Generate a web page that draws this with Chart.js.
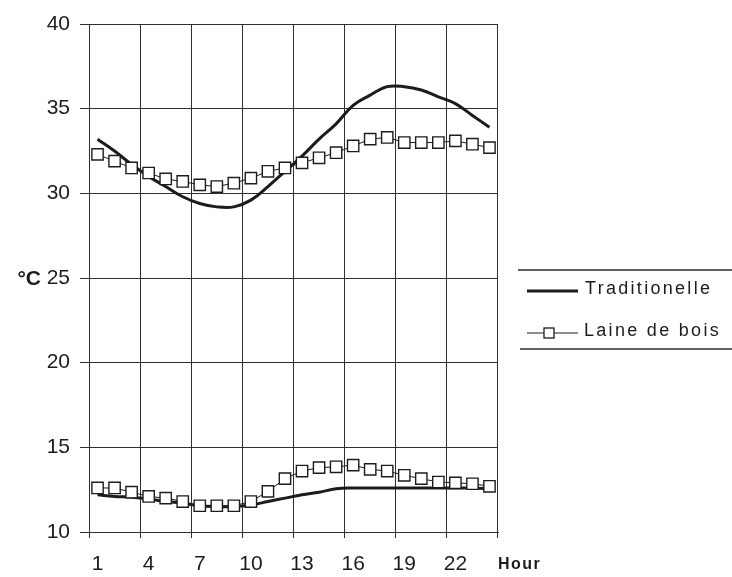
<!DOCTYPE html>
<html>
<head>
<meta charset="utf-8">
<script src="https://cdn.jsdelivr.net/npm/chart.js@4"></script>
<style>
  html, body { margin: 0; padding: 0; background: #fff; }
  #wrap { width: 732px; height: 577px; }
</style>
</head>
<body>
<div id="wrap"><canvas id="tempChart"></canvas></div>
<script>
/// === DATA === ///
const hours = ['1', '2', '3', '4', '5', '6', '7', '8', '9', '10', '11', '12',
  '13', '14', '15', '16', '17', '18', '19', '20', '21', '22', '23', '24'];

const tradUpper = [33.2, 32.5, 31.7, 31.0, 30.4, 29.8, 29.4, 29.2, 29.2, 29.6, 30.4, 31.3,
  32.2, 33.2, 34.1, 35.2, 35.8, 36.3, 36.3, 36.1, 35.7, 35.3, 34.6, 33.9];
const laineUpper = [32.3, 31.9, 31.5, 31.2, 30.85, 30.7, 30.5, 30.4, 30.6, 30.9, 31.3, 31.5,
  31.8, 32.1, 32.4, 32.8, 33.2, 33.3, 33.0, 33.0, 33.0, 33.1, 32.9, 32.7];
const tradLower = [12.2, 12.1, 12.05, 11.95, 11.8, 11.7, 11.55, 11.5, 11.5, 11.6, 11.8, 12.0,
  12.2, 12.35, 12.55, 12.6, 12.6, 12.6, 12.6, 12.6, 12.6, 12.6, 12.6, 12.55];
const laineLower = [12.6, 12.6, 12.35, 12.1, 12.0, 11.8, 11.55, 11.55, 11.55, 11.8, 12.4, 13.15,
  13.6, 13.8, 13.85, 13.95, 13.7, 13.6, 13.35, 13.15, 12.95, 12.9, 12.85, 12.7];

const seriesNames = ['Traditionelle', 'Laine de bois'];
const yUnit = '°C';
const xUnit = 'Hour';

const ink = '#1c1c1c';
const gridInk = '#2e2e2e';
const fontFam = '"Liberation Sans", Arial, sans-serif';

// legend + unit labels, drawn beside the plot
const sideText = {
  id: 'sideText',
  afterDraw(chart) {
    const { ctx, chartArea } = chart;
    const x0 = chartArea.right;
    ctx.save();

    // legend frame lines
    ctx.strokeStyle = gridInk;
    ctx.lineWidth = 1.3;
    ctx.beginPath();
    ctx.moveTo(x0 + 20, 270); ctx.lineTo(chart.width, 270);
    ctx.moveTo(x0 + 22, 349); ctx.lineTo(chart.width, 349);
    ctx.stroke();

    // Traditionelle sample
    ctx.strokeStyle = ink;
    ctx.lineWidth = 3;
    ctx.beginPath();
    ctx.moveTo(x0 + 29, 291); ctx.lineTo(x0 + 80, 291);
    ctx.stroke();

    // Laine de bois sample
    ctx.lineWidth = 1;
    ctx.beginPath();
    ctx.moveTo(x0 + 29, 333); ctx.lineTo(x0 + 80, 333);
    ctx.stroke();
    ctx.fillStyle = '#fff';
    ctx.lineWidth = 1.3;
    ctx.fillRect(x0 + 46, 328, 10, 10);
    ctx.strokeRect(x0 + 46, 328, 10, 10);

    ctx.fillStyle = ink;
    ctx.font = '18px ' + fontFam;
    ctx.letterSpacing = '2.3px';
    ctx.textBaseline = 'middle';
    ctx.textAlign = 'left';
    ctx.fillText(seriesNames[0], x0 + 87, 289);
    ctx.fillText(seriesNames[1], x0 + 86, 331);

    // axis units
    ctx.font = 'bold 16px ' + fontFam;
    ctx.letterSpacing = '1.5px';
    ctx.fillText(xUnit, x0, 565);

    ctx.font = 'bold 21px ' + fontFam;
    ctx.letterSpacing = '0px';
    ctx.textAlign = 'right';
    ctx.fillText(yUnit, 41, chart.scales.y.getPixelForValue(25) + 1);
    ctx.restore();
  }
};

/// === CHART === ///
new Chart(document.getElementById('tempChart'), {
  type: 'line',
  data: {
    labels: hours,
    datasets: [
      {
        label: seriesNames[1],
        data: laineUpper,
        borderColor: ink,
        borderWidth: 1,
        pointStyle: 'rect',
        pointRadius: 8,
        pointBorderWidth: 1.4,
        pointBackgroundColor: '#fff',
        pointBorderColor: ink,
        order: 1,
      },
      {
        label: seriesNames[1],
        data: laineLower,
        borderColor: ink,
        borderWidth: 1,
        pointStyle: 'rect',
        pointRadius: 8,
        pointBorderWidth: 1.4,
        pointBackgroundColor: '#fff',
        pointBorderColor: ink,
        order: 1,
      },
      {
        label: seriesNames[0],
        data: tradUpper,
        borderColor: ink,
        borderWidth: 3,
        pointRadius: 0,
        tension: 0.4,
        order: 2,
      },
      {
        label: seriesNames[0],
        data: tradLower,
        borderColor: ink,
        borderWidth: 3,
        pointRadius: 0,
        tension: 0.4,
        order: 2,
      },
    ],
  },
  options: {
    responsive: true,
    maintainAspectRatio: false,
    animation: false,
    layout: {
      padding: { top: 24, right: 234, bottom: 0, left: 0 },
    },
    plugins: {
      legend: { display: false },
      tooltip: { enabled: false },
    },
    scales: {
      x: {
        offset: true,
        grid: {
          offset: true,
          color: (c) => (c.index === undefined || c.index % 3 === 0) ? gridInk : 'rgba(0,0,0,0)',
          lineWidth: 1,
          tickLength: 6,
        },
        border: { color: gridInk, width: 1 },
        ticks: {
          autoSkip: false,
          maxRotation: 0,
          padding: 14,
          color: ink,
          font: { size: 21, family: fontFam },
          callback: function (val, i) {
            return i % 3 === 0 ? this.getLabelForValue(val) : '';
          },
        },
        afterFit: (scale) => { scale.height = 45; },
      },
      y: {
        min: 10,
        max: 40,
        grid: { color: gridInk, lineWidth: 1, tickLength: 9 },
        border: { color: gridInk, width: 1 },
        ticks: {
          stepSize: 5,
          padding: 10,
          color: ink,
          font: { size: 21, family: fontFam },
        },
        afterFit: (scale) => { scale.width = 89; },
      },
    },
  },
  plugins: [sideText],
});
</script>
</body>
</html>
